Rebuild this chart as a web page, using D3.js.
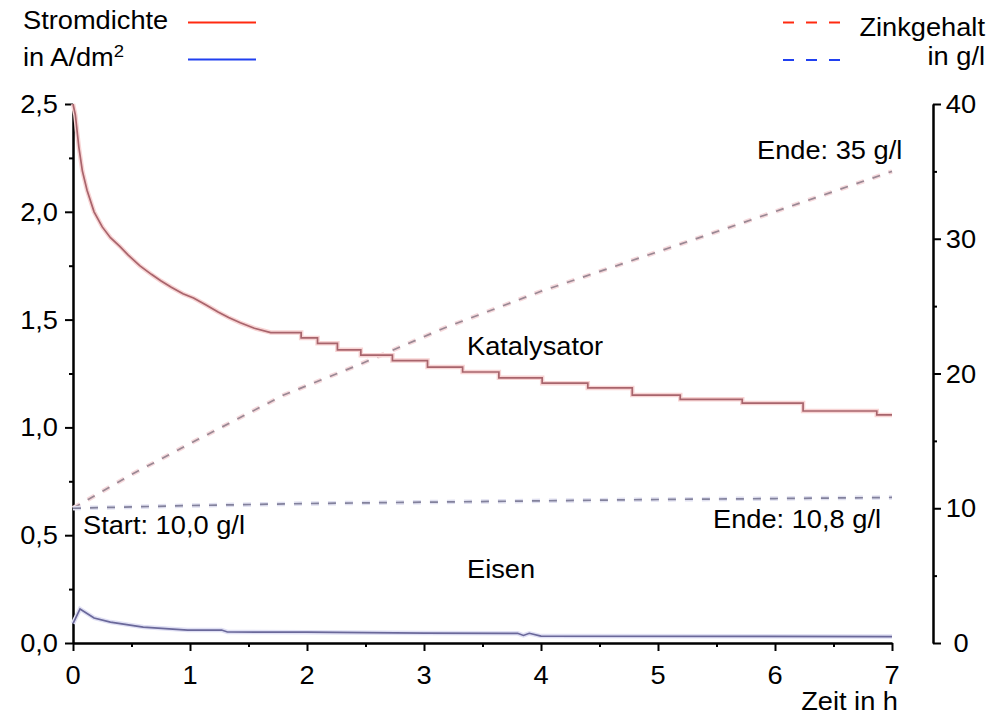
<!DOCTYPE html>
<html>
<head>
<meta charset="utf-8">
<script src="https://cdn.jsdelivr.net/npm/d3@7"></script>
<style>
  body { margin: 0; background: #fff; }
  svg text { font-family: "Liberation Sans", Arial, sans-serif; fill: #000; }
</style>
</head>
<body>
<svg id="chart" width="994" height="717"></svg>
<script>
/** Data: [time in h, value] **/
var stromKat = [[0,2.5],[0.02,2.45],[0.05,2.3],[0.08,2.19],[0.12,2.1],[0.18,2.0],[0.25,1.93],[0.32,1.88],
    [0.4,1.84],[0.47,1.80],[0.57,1.75],[0.67,1.71],[0.75,1.68],[0.84,1.65],[0.94,1.62],[1.03,1.60],
    [1.13,1.57],[1.24,1.535],[1.33,1.51],[1.43,1.485],[1.55,1.46],[1.69,1.44],[1.95,1.44],[1.95,1.415],
    [2.09,1.415],[2.09,1.39],[2.26,1.39],[2.26,1.36],[2.46,1.36],[2.46,1.335],[2.73,1.335],[2.73,1.31],
    [3.03,1.31],[3.03,1.28],[3.33,1.28],[3.33,1.257],[3.64,1.257],[3.64,1.23],[4.01,1.23],[4.01,1.205],
    [4.40,1.205],[4.40,1.183],[4.78,1.183],[4.78,1.15],[5.19,1.15],[5.19,1.13],[5.72,1.13],[5.72,1.113],
    [6.24,1.113],[6.24,1.076],[6.87,1.076],[6.87,1.058],[7.0,1.058]];
var stromEisen = [[0,0.09],[0.06,0.158],[0.18,0.116],[0.32,0.097],[0.6,0.074],[0.98,0.06],[1.27,0.06],
    [1.32,0.051],[2,0.05],[3,0.046],[3.8,0.045],[3.85,0.035],[3.9,0.045],[4.0,0.032],[7,0.03]];
var zinkKat = [[0,10],[0.5,12.5],[1,14.8],[1.8,18.4],[2.43,20.6],[3.18,23.4],[4,26.1],[5.36,30.1],[7,35.0]];
var zinkEisen = [[0,10.0],[1,10.2],[2,10.35],[3,10.45],[4,10.55],[5,10.65],[6,10.72],[7,10.8]];

var xTicks = [0,1,2,3,4,5,6,7];
var yLeftTicks = [0,0.5,1,1.5,2,2.5];
var yRightTicks = [0,10,20,30,40];

var svg = d3.select("#chart");

/** Scales **/
var xScale = d3.scaleLinear().domain([0,7]).range([73,892]);
var yLeft = d3.scaleLinear().domain([0,2.5]).range([643,104]);
var yRight = d3.scaleLinear().domain([0,40]).range([643,104]);

/** text helper - the original type is a bit wider than Helvetica **/
function addText(x, y, str, anchor){
    return svg.append("text")
        .attr("transform", "translate(" + x + "," + y + ") scale(1.09,1)")
        .style("font-size", "25px")
        .style("text-anchor", anchor || "start")
        .text(str);
}

/** Axes **/
function styleAxis(g){
    g.selectAll("path").attr("stroke", "#000").attr("stroke-width", 2);
    g.selectAll("line").attr("stroke", "#000").attr("stroke-width", 2);
    g.selectAll("text").remove();
}
var fmt = function(d){ return d3.format(".1f")(d).replace(".", ","); };

// minor ticks first, then major
svg.append("g").attr("transform", "translate(0,643)")
    .call(d3.axisBottom(xScale).tickValues(d3.range(0.5,7,1)).tickSize(4).tickSizeOuter(0)).call(styleAxis);
svg.append("g").attr("transform", "translate(0,643)")
    .call(d3.axisBottom(xScale).tickValues(xTicks).tickSize(8).tickSizeOuter(0)).call(styleAxis);
svg.append("g").attr("transform", "translate(73,0)")
    .call(d3.axisLeft(yLeft).tickValues(d3.range(0.25,2.5,0.5)).tickSize(4).tickSizeOuter(0)).call(styleAxis);
svg.append("g").attr("transform", "translate(73,0)")
    .call(d3.axisLeft(yLeft).tickValues(yLeftTicks).tickSize(8).tickSizeOuter(0)).call(styleAxis);
svg.append("g").attr("transform", "translate(933,0)")
    .call(d3.axisRight(yRight).tickValues(d3.range(5,40,10)).tickSize(4).tickSizeOuter(0)).call(styleAxis);
svg.append("g").attr("transform", "translate(933,0)")
    .call(d3.axisRight(yRight).tickValues(yRightTicks).tickSize(8).tickSizeOuter(0)).call(styleAxis);

/** Tick labels **/
xTicks.forEach(function(d){ addText(xScale(d), 684, String(d), "middle"); });
yLeftTicks.forEach(function(d){ addText(58, yLeft(d) + 9, fmt(d), "end"); });
yRightTicks.forEach(function(d){ addText(961, yRight(d) + 9, String(d), "middle"); });

/** Lines: pale halo under a darker core, like the scanned original **/
function drawLine(data, yScale, halo, core, dash){
    var line = d3.line()
        .x(function(d){ return xScale(d[0]); })
        .y(function(d){ return yScale(d[1]); });
    svg.append("path").datum(data)
        .attr("fill", "none").attr("stroke", halo).attr("stroke-width", 4.5)
        .attr("stroke-dasharray", dash ? "8,9" : null)
        .attr("d", line);
    svg.append("path").datum(data)
        .attr("fill", "none").attr("stroke", core).attr("stroke-width", 1.7)
        .attr("stroke-dasharray", dash ? "8,9" : null)
        .attr("d", line);
}
drawLine(zinkKat, yRight, "#f6dadd", "#9a8894", true);
drawLine(zinkEisen, yRight, "#e0e0f0", "#82819c", true);
drawLine(stromKat, yLeft, "#f8d4d4", "#a8646c", false);
drawLine(stromEisen, yLeft, "#e0e0f4", "#6a689a", false);

/** Annotations **/
addText(467, 355, "Katalysator");
addText(467, 578, "Eisen");
addText(83, 534, "Start: 10,0 g/l");
addText(713, 528, "Ende: 10,8 g/l");
addText(757, 159, "Ende: 35 g/l");
addText(898, 710, "Zeit in h", "end");

/** Legend **/
addText(23, 29, "Stromdichte");
var unit = addText(23, 66, "in A/dm");
unit.append("tspan").attr("dy", -9).style("font-size", "17px").text("2");
addText(985, 36, "Zinkgehalt", "end");
addText(985, 65, "in g/l", "end");

svg.append("line").attr("x1", 188).attr("x2", 256).attr("y1", 22.5).attr("y2", 22.5)
    .attr("stroke", "#ff2a10").attr("stroke-width", 2);
svg.append("line").attr("x1", 188).attr("x2", 256).attr("y1", 59.5).attr("y2", 59.5)
    .attr("stroke", "#2040f0").attr("stroke-width", 2);
svg.append("line").attr("x1", 783).attr("x2", 840).attr("y1", 22.5).attr("y2", 22.5)
    .attr("stroke", "#ff2a10").attr("stroke-width", 2).attr("stroke-dasharray", "11,12");
svg.append("line").attr("x1", 783).attr("x2", 840).attr("y1", 60).attr("y2", 60)
    .attr("stroke", "#2040f0").attr("stroke-width", 2).attr("stroke-dasharray", "11,12");
</script>
</body>
</html>
